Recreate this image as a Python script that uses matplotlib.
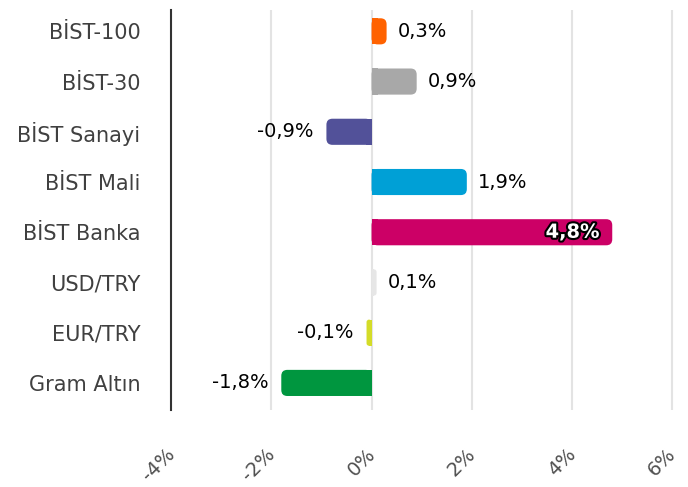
import matplotlib
matplotlib.use("Agg")
import matplotlib.pyplot as plt
from matplotlib.patches import FancyBboxPatch
import matplotlib.patheffects as pe
from matplotlib.transforms import ScaledTranslation

categories = ["BİST-100", "BİST-30", "BİST Sanayi", "BİST Mali", "BİST Banka", "USD/TRY", "EUR/TRY", "Gram Altın"]
values = [0.3, 0.9, -0.9, 1.9, 4.8, 0.1, -0.1, -1.8]
labels = ["0,3%", "0,9%", "-0,9%", "1,9%", "4,8%", "0,1%", "-0,1%", "-1,8%"]
colors = ["#FF6200", "#A8A8A8", "#525199", "#00A0D6", "#CC0066", "#E6E6E6", "#D4DC28", "#00963F"]
xticks = [-4, -2, 0, 2, 4, 6]
xticklabels = ["-4%", "-2%", "0%", "2%", "4%", "6%"]

plt.rcParams['font.family'] = ['DejaVu Sans']

fig = plt.figure(figsize=(6.88, 4.87), dpi=100)
ax = fig.add_axes([0.2485, 0.158, 0.981 - 0.2485, 0.979 - 0.158])

ypos = list(range(len(categories)))
bars = ax.barh(ypos, values, height=0.52, color=colors)
for b, c in zip(bars, colors):
    x0, y0, w, h = b.get_x(), b.get_y(), b.get_width(), b.get_height()
    b.set_visible(False)
    left = min(x0, x0 + w)
    width = abs(w)
    r = min(0.12, width / 2 if width > 0 else 0.01)
    p = FancyBboxPatch((left, y0), width, h,
                       boxstyle=f"round,pad=0,rounding_size={r}",
                       facecolor=c, edgecolor='none', zorder=3)
    ax.add_patch(p)
    sq = min(width, r)
    if w >= 0:
        ax.add_patch(plt.Rectangle((0, y0), sq, h, facecolor=c, edgecolor='none', zorder=3))
    else:
        ax.add_patch(plt.Rectangle((-sq, y0), sq, h, facecolor=c, edgecolor='none', zorder=3))

for y, v, lab in zip(ypos, values, labels):
    if v >= 4:
        ax.text(v - 0.25, y, lab, ha='right', va='center', fontsize=14, color='white', zorder=5,
                fontweight='bold',
                path_effects=[pe.withStroke(linewidth=3, foreground='black')])
    elif v >= 0:
        ax.text(v + 0.22, y, lab, ha='left', va='center', fontsize=14, color='black', zorder=5)
    else:
        ax.text(v - 0.25, y, lab, ha='right', va='center', fontsize=14, color='black', zorder=5)

ax.set_xlim(-4, 6.05)
ax.set_ylim(7.54, -0.42)
ax.set_yticks(ypos)
ax.set_yticklabels(categories, fontsize=15, color='#404040')
ax.tick_params(axis='y', length=0, pad=22)
ax.set_xticks(xticks)
ax.set_xticklabels(xticklabels, fontsize=14, color='#505050', rotation=45, ha='right', va='top',
                   rotation_mode='anchor')
ax.tick_params(axis='x', length=0, pad=25)
off = ScaledTranslation(-6 / 100, 0, fig.dpi_scale_trans)
for t in ax.get_xticklabels():
    t.set_transform(t.get_transform() + off)
ax.grid(axis='x', color='#E3E3E3', linewidth=1.5, zorder=0)
ax.set_axisbelow(True)
for s in ['top', 'right', 'bottom']:
    ax.spines[s].set_visible(False)
ax.spines['left'].set_color('#333333')
ax.spines['left'].set_linewidth(1.5)

fig.savefig("out.png", dpi=100)
